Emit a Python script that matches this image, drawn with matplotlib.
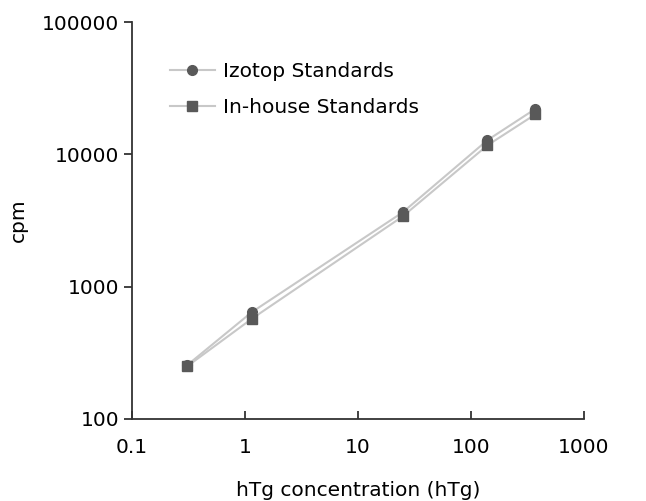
import numpy as np
import matplotlib.pyplot as plt

# concentrations (hTg) and counts
conc = [0.31, 1.15, 25, 140, 370]
izotop = [255, 640, 3650, 12800, 22000]
inhouse = [250, 570, 3400, 11700, 20000]

plt.rcParams['font.family'] = ['DejaVu Sans']

fig = plt.figure(figsize=(6.46, 5.01), dpi=100)
ax = fig.add_axes([0.204, 0.164, 0.700, 0.792])

ax.plot(conc, izotop, color='#c8c8c8', lw=1.5, marker='o', ms=7,
        mfc='#595959', mec='#595959', label='Izotop Standards')
ax.plot(conc, inhouse, color='#c8c8c8', lw=1.5, marker='s', ms=7,
        mfc='#595959', mec='#595959', label='In-house Standards')

ax.set_xscale('log')
ax.set_yscale('log')
ax.set_xlim(0.1, 1000)
ax.set_ylim(100, 100000)
ax.set_xticks([0.1, 1, 10, 100, 1000])
ax.set_xticklabels(['0.1', '1', '10', '100', '1000'])
ax.set_yticks([100, 1000, 10000, 100000])
ax.set_yticklabels(['100', '1000', '10000', '100000'])
ax.minorticks_off()

for s in ['top', 'right']:
    ax.spines[s].set_visible(False)
for s in ['left', 'bottom']:
    ax.spines[s].set_color('#333333')
    ax.spines[s].set_linewidth(1.3)

ax.tick_params(axis='x', direction='in', length=6, width=1.3, color='#333333',
               labelsize=14.5, pad=14)
ax.tick_params(axis='y', direction='out', length=6, width=1.3, color='#333333',
               labelsize=14.5, pad=3)

ax.set_xlabel('hTg concentration (hTg)', fontsize=14.5, labelpad=17)
ax.set_ylabel('cpm', fontsize=14.5, labelpad=10)

ax.legend(loc='upper left', bbox_to_anchor=(0.045, 0.945), frameon=False,
          fontsize=14.5, handlelength=2.2, handletextpad=0.4, labelspacing=0.85)

fig.savefig('out.png', dpi=100)
